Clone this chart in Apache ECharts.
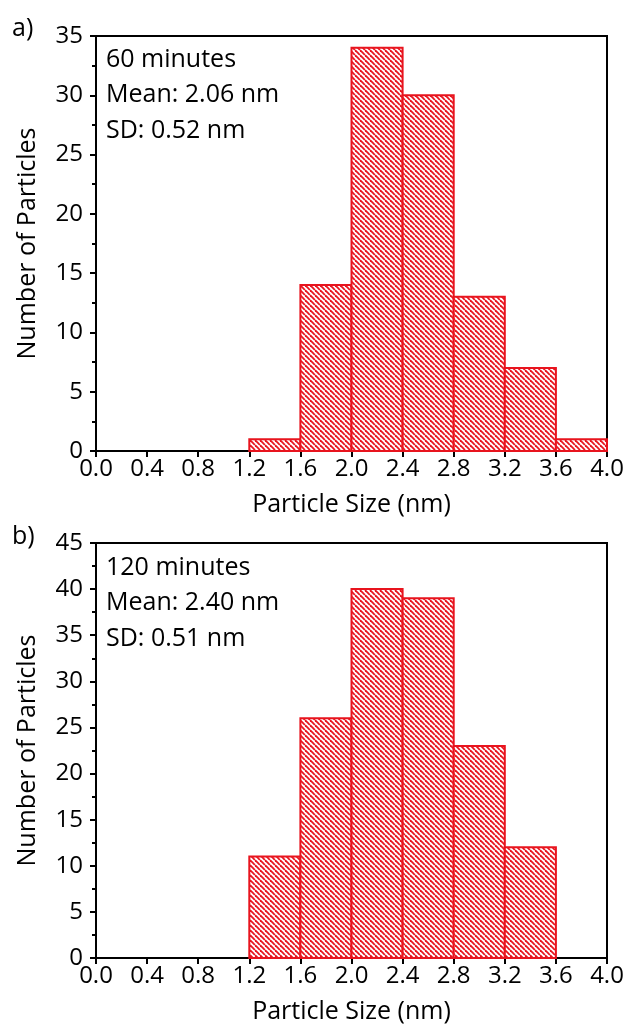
<!DOCTYPE html>
<html>
<head>
<meta charset="utf-8">
<script src="https://cdn.jsdelivr.net/npm/echarts@6/dist/echarts.min.js"></script>
<style>
  html, body { margin: 0; padding: 0; background: #fff; }
  #main { width: 627px; height: 1025px; }
</style>
</head>
<body>
<div id="main"></div>
<script>
// bin edges 0.0 .. 4.0, step 0.4
const binEdges = [0.0, 0.4, 0.8, 1.2, 1.6, 2.0, 2.4, 2.8, 3.2, 3.6, 4.0];
// counts per bin
const counts60 = [0, 0, 0, 1, 14, 34, 30, 13, 7, 1];
const counts120 = [0, 0, 0, 11, 26, 40, 39, 23, 12, 0];
const notes60 = ['60 minutes', 'Mean: 2.06 nm', 'SD: 0.52 nm'];
const notes120 = ['120 minutes', 'Mean: 2.40 nm', 'SD: 0.51 nm'];

const RED = '#e8141e';
const FONT = 'Open Sans';

// diagonal hatch pattern
function makeHatch() {
  const s = 5;
  const c = document.createElement('canvas');
  c.width = s; c.height = s;
  const ctx = c.getContext('2d');
  ctx.fillStyle = '#fff';
  ctx.fillRect(0, 0, s, s);
  ctx.strokeStyle = RED;
  ctx.lineWidth = 1.8;
  for (let k = -1; k <= 1; k++) {
    ctx.beginPath();
    ctx.moveTo(k * s, 0);
    ctx.lineTo(k * s + s, s);
    ctx.stroke();
  }
  return c;
}
const hatch = makeHatch();

function toBins(counts) {
  return counts.map((v, i) => [binEdges[i], binEdges[i + 1], v]);
}

const chart = echarts.init(document.getElementById('main'));

const grids = [
  { left: 96, top: 36, width: 511, height: 415 },
  { left: 96, top: 543, width: 511, height: 421 }
];

function xAxis(idx) {
  return {
    type: 'value', gridIndex: idx, min: 0, max: 4, interval: 0.4,
    name: 'Particle Size (nm)', nameLocation: 'middle', nameGap: 41,
    nameTextStyle: { fontFamily: FONT, fontSize: 25, color: '#000' },
    axisLine: { lineStyle: { color: '#000', width: 2 } },
    axisTick: { show: true, inside: false, length: 6, lineStyle: { color: '#000', width: 2 } },
    axisLabel: { fontFamily: FONT, fontSize: 24, color: '#000', margin: 6,
      formatter: v => v.toFixed(1) },
    splitLine: { show: false }
  };
}
function yAxis(idx, max) {
  return {
    type: 'value', gridIndex: idx, min: 0, max: max, interval: 5,
    name: 'Number of Particles', nameLocation: 'middle', nameGap: 56,
    nameTextStyle: { fontFamily: FONT, fontSize: 25, color: '#000' },
    axisLine: { show: true, lineStyle: { color: '#000', width: 2 } },
    axisTick: { show: true, length: 6, lineStyle: { color: '#000', width: 2 } },
    minorTick: { show: true, splitNumber: 2, length: 4, lineStyle: { color: '#000', width: 2 } },
    axisLabel: { fontFamily: FONT, fontSize: 24, color: '#000', margin: 13 },
    splitLine: { show: false }
  };
}

function histSeries(idx, counts) {
  return {
    type: 'custom', xAxisIndex: idx, yAxisIndex: idx,
    data: toBins(counts),
    encode: { x: [0, 1], y: 2 },
    renderItem: (params, api) => {
      if (api.value(2) <= 0) return;
      const p0 = api.coord([api.value(0), api.value(2)]);
      const p1 = api.coord([api.value(1), 0]);
      return {
        type: 'rect',
        shape: { x: p0[0], y: p0[1], width: p1[0] - p0[0], height: p1[1] - p0[1] },
        style: { fill: { image: hatch, repeat: 'repeat' }, stroke: RED, lineWidth: 2 }
      };
    },
    z: 1
  };
}

function noteGraphics(lines, top) {
  return lines.map((t, i) => ({
    type: 'text', left: 106, top: top + i * 35.5,
    style: { text: t, font: '25px "' + FONT + '"', fill: '#000' }
  }));
}

chart.setOption({
  animation: false,
  grid: grids.map(g => Object.assign({ show: true, borderColor: '#000', borderWidth: 2, backgroundColor: 'transparent' }, g)),
  xAxis: [xAxis(0), xAxis(1)],
  yAxis: [yAxis(0, 35), yAxis(1, 45)],
  series: [histSeries(0, counts60), histSeries(1, counts120)],
  graphic: [
    { type: 'text', left: 12, top: 16, style: { text: 'a)', font: '25px "' + FONT + '"', fill: '#000' } },
    { type: 'text', left: 12, top: 524, style: { text: 'b)', font: '25px "' + FONT + '"', fill: '#000' } }
  ].concat(noteGraphics(notes60, 47), noteGraphics(notes120, 555))
});
</script>
</body>
</html>
